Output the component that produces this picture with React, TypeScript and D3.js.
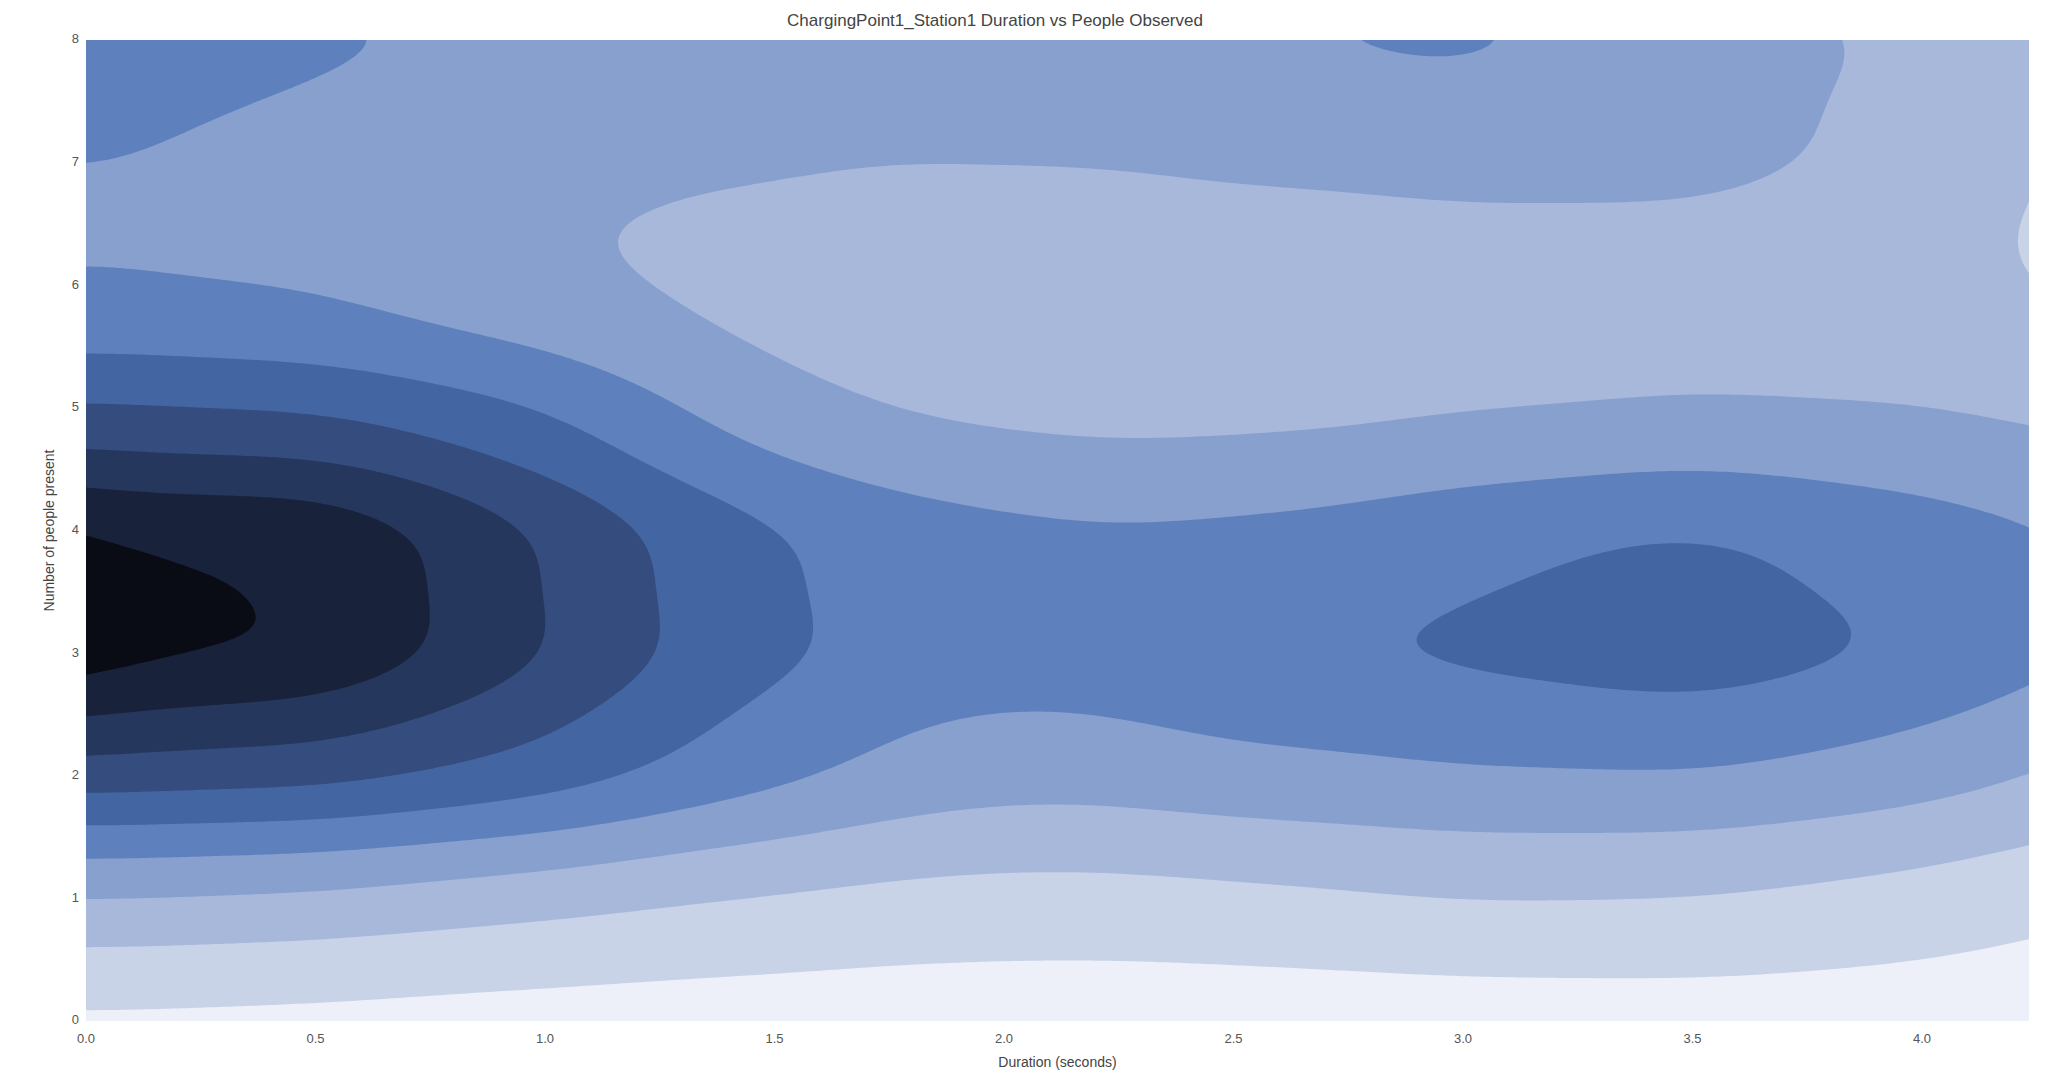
import React, { useEffect, useRef } from 'react';
import * as d3 from 'd3';

// observed sessions, binned by duration (seconds) and number of people present
const durations = [-0.5, 0, 0.5, 1.0, 1.5, 2.0, 2.5, 3.0, 3.5, 4.0, 4.5, 5.0];
const peopleCounts = [0, 1, 2, 3, 4, 5, 6, 7, 8, 9];
// one row per people count, one column per duration bin
const sessions = [
  [6, 7, 6, 5, 5, 4, 4, 4, 5, 5, 3, 2],
  [27, 28, 26, 21, 17, 15, 16, 20, 19, 15, 9, 6],
  [64, 65, 64, 57, 43, 32, 37, 39, 40, 35, 24, 19],
  [121, 93, 93, 70, 50, 43, 50, 52, 58, 50, 38, 29],
  [113, 87, 93, 69, 50, 42, 41, 47, 53, 44, 38, 30],
  [57, 59, 57, 50, 30, 25, 25, 27, 29, 29, 26, 22],
  [38, 38, 37, 29, 25, 21, 22, 23, 23, 22, 15, 11],
  [38, 39, 36, 32, 30, 29, 31, 33, 34, 27, 12, 11],
  [48, 49, 41, 39, 36, 39, 40, 44, 36, 27, 26, 24],
  [42, 43, 36, 34, 32, 33, 34, 37, 31, 23, 22, 20],
];
const bandwidthX = 0.3;
const bandwidthY = 0.55;
const nLevels = 10;

const xTicks = [0, 0.5, 1.0, 1.5, 2.0, 2.5, 3.0, 3.5, 4.0];
const yTicks = [0, 1, 2, 3, 4, 5, 6, 7, 8];
const levelColors = [
  '#edf0f8', '#c9d3e7', '#a7b8da', '#87a0cd', '#5e80bd',
  '#4365a2', '#344d7e', '#25375c', '#18223a', '#0a0c15',
];

const title = 'ChargingPoint1_Station1 Duration vs People Observed';
const xLabel = 'Duration (seconds)';
const yLabel = 'Number of people present';

export default function App() {
  const svgRef = useRef<SVGSVGElement>(null);

  useEffect(() => {
    document.body.style.margin = '0';
    if (!svgRef.current) return;
    const width = 2045;
    const height = 1074;
    const plot = { left: 86, right: 2029, top: 40, bottom: 1021 };

    const svg = d3.select(svgRef.current)
      .attr('width', width)
      .attr('height', height);
    svg.selectAll('*').remove();

    const xScale = d3.scaleLinear().domain([0, 4.233]).range([plot.left, plot.right]);
    const yScale = d3.scaleLinear().domain([0, 8]).range([plot.bottom, plot.top]);

    // density grid (gaussian kde over the binned sessions)
    const gx0 = -1.2, gx1 = 4.8, gy0 = -0.8, gy1 = 8.8;
    const dx = 0.01, dy = 0.02;
    const nx = Math.round((gx1 - gx0) / dx) + 1;
    const ny = Math.round((gy1 - gy0) / dy) + 1;

    const rows = peopleCounts.map((_, j) => {
      const r = new Float64Array(nx);
      for (let gi = 0; gi < nx; gi++) {
        const x = gx0 + gi * dx;
        let s = 0;
        durations.forEach((d, i) => {
          const u = (x - d) / bandwidthX;
          s += sessions[j][i] * Math.exp(-0.5 * u * u);
        });
        r[gi] = s;
      }
      return r;
    });

    const values = new Float64Array(nx * ny);
    for (let gj = 0; gj < ny; gj++) {
      const y = gy0 + gj * dy;
      const w = peopleCounts.map(p => {
        const v = (y - p) / bandwidthY;
        return Math.exp(-0.5 * v * v);
      });
      for (let gi = 0; gi < nx; gi++) {
        let s = 0;
        for (let j = 0; j < w.length; j++) s += w[j] * rows[j][gi];
        values[gj * nx + gi] = s;
      }
    }

    const maxVal = d3.max(values) as number;
    const thresholds = d3.range(1, nLevels).map(k => (maxVal * k) / nLevels);
    const contours = d3.contours().size([nx, ny]).thresholds(thresholds)(Array.from(values));

    const path = d3.geoPath(d3.geoTransform({
      point(px: number, py: number) {
        this.stream.point(xScale(gx0 + (px - 0.5) * dx), yScale(gy0 + (py - 0.5) * dy));
      },
    }));

    svg.append('clipPath').attr('id', 'plot-clip')
      .append('rect')
      .attr('x', plot.left).attr('y', plot.top)
      .attr('width', plot.right - plot.left).attr('height', plot.bottom - plot.top);

    const g = svg.append('g').attr('clip-path', 'url(#plot-clip)');
    g.append('rect')
      .attr('x', plot.left).attr('y', plot.top)
      .attr('width', plot.right - plot.left).attr('height', plot.bottom - plot.top)
      .attr('fill', levelColors[0]);

    g.selectAll('path.level')
      .data(contours)
      .enter().append('path')
      .attr('class', 'level')
      .attr('d', d => path(d as any) as string)
      .attr('fill', (_, i) => levelColors[i + 1]);

    const font = '"Liberation Sans", Arial, sans-serif';

    // tick labels
    svg.selectAll('text.xtick')
      .data(xTicks)
      .enter().append('text')
      .attr('class', 'xtick')
      .attr('x', d => xScale(d))
      .attr('y', 1040)
      .attr('text-anchor', 'middle')
      .attr('dominant-baseline', 'middle')
      .style('font-family', font)
      .style('font-size', '13px')
      .attr('fill', '#555')
      .text(d => d.toFixed(1));

    svg.selectAll('text.ytick')
      .data(yTicks)
      .enter().append('text')
      .attr('class', 'ytick')
      .attr('x', 79)
      .attr('y', d => yScale(d))
      .attr('text-anchor', 'end')
      .attr('dominant-baseline', 'middle')
      .style('font-family', font)
      .style('font-size', '13px')
      .attr('fill', '#555')
      .text(d => String(d));

    svg.append('text')
      .attr('x', 995)
      .attr('y', 22)
      .attr('text-anchor', 'middle')
      .attr('dominant-baseline', 'middle')
      .style('font-family', font)
      .style('font-size', '17px')
      .attr('fill', '#444')
      .text(title);

    svg.append('text')
      .attr('x', (plot.left + plot.right) / 2)
      .attr('y', 1063)
      .attr('text-anchor', 'middle')
      .attr('dominant-baseline', 'middle')
      .style('font-family', font)
      .style('font-size', '14px')
      .attr('fill', '#444')
      .text(xLabel);

    svg.append('text')
      .attr('transform', `translate(50,${(plot.top + plot.bottom) / 2}) rotate(-90)`)
      .attr('text-anchor', 'middle')
      .attr('dominant-baseline', 'middle')
      .style('font-family', font)
      .style('font-size', '14px')
      .attr('fill', '#444')
      .text(yLabel);
  }, []);

  return <svg ref={svgRef} style={{ display: 'block' }}></svg>;
}
